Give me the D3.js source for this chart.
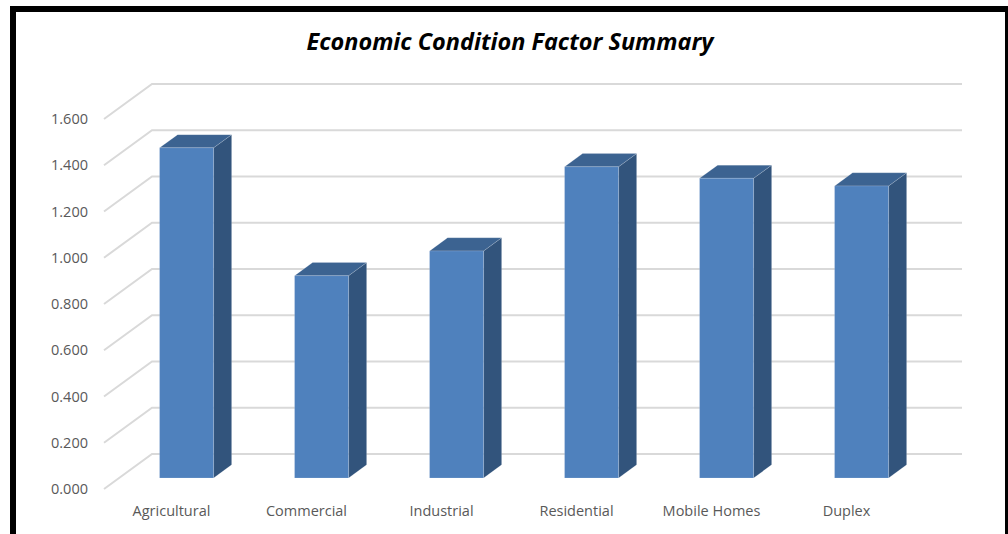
<!DOCTYPE html>
<html lang="en">
  <head>
    <meta charset="utf-8">
    <title>Economic Condition Factor Summary</title>
    <style>
		body{
			margin:0;
			padding:0;
			background:#fff;
		}
		svg{
			display:block;
		}
		.grid{
			stroke:#d9d9d9;
			stroke-width:2;
			fill:none;
		}
		text.tick{
			font-family:"Open Sans", sans-serif;
			font-size:14.5px;
			fill:#595959;
		}
		text.title{
			font-family:"Open Sans", sans-serif;
			font-weight:bold;
			font-style:italic;
			font-size:24px;
			fill:#000;
		}
		.front{ fill:#4f81bd; }
		.side{ fill:#32547c; }
		.top{ fill:#3c6391; }
		.bar path{
			stroke:rgba(255,255,255,0.25);
			stroke-width:0.6;
		}
    </style>
  </head>
  <body>

	<div id="container"></div>

	<script src="https://cdn.jsdelivr.net/npm/d3@7"></script>
	<script type="text/javascript">

		// data
		var categories = ['Agricultural', 'Commercial', 'Industrial', 'Residential', 'Mobile Homes', 'Duplex'];
		var values = [1.428, 0.875, 0.982, 1.346, 1.296, 1.263];
		var ticks = [0, 0.2, 0.4, 0.6, 0.8, 1.0, 1.2, 1.4, 1.6];

		var width = 1008,
			height = 534;

		// oblique 3d: front floor edge and back wall offset
		var depthX = 48, depthY = -35;
		var barD0 = 0.314, barD1 = 0.69;   // bar front / back as fraction of depth

		var svg = d3.select('#container').append('svg')
			.attr('width', width)
			.attr('height', height);

		var x = d3.scaleBand()
			.domain(categories)
			.range([104, 914])
			.paddingInner(0.6)
			.paddingOuter(0.3);

		// y on the front plane
		var y = d3.scaleLinear()
			.domain([0, 1.6])
			.range([489, 489 - 8 * 46.25]);

		// gridlines: diagonal on left side wall + horizontal on back wall
		var grid = svg.append('g');
		ticks.forEach(function(t){
			var yf = y(t);
			grid.append('path')
				.attr('class', 'grid')
				.attr('d', 'M' + x.range()[0] + ',' + yf +
					'L' + (x.range()[0] + depthX) + ',' + (yf + depthY) +
					'L' + (x.range()[1] + depthX) + ',' + (yf + depthY));
		});

		// tick labels
		svg.append('g').selectAll('text').data(ticks).enter()
			.append('text')
			.attr('class', 'tick')
			.attr('x', 88)
			.attr('y', function(d){ return y(d); })
			.attr('dy', '0.35em')
			.attr('text-anchor', 'end')
			.text(function(d){ return d3.format('.3f')(d); });

		// category labels
		svg.append('g').selectAll('text').data(categories).enter()
			.append('text')
			.attr('class', 'tick')
			.attr('x', function(d){ return x(d) + x.bandwidth() / 2; })
			.attr('y', 511)
			.attr('dy', '0.35em')
			.attr('text-anchor', 'middle')
			.text(function(d){ return d; });

		// bars
		var fx = barD0 * depthX, fy = barD0 * depthY;
		var bx = barD1 * depthX, by = barD1 * depthY;

		var bars = svg.append('g').selectAll('g').data(values).enter()
			.append('g').attr('class', 'bar');

		function pts(list){
			return 'M' + list.map(function(p){ return p[0] + ',' + p[1]; }).join('L') + 'Z';
		}

		bars.each(function(v, i){
			var g = d3.select(this);
			var x0 = x(categories[i]), x1 = x0 + x.bandwidth();
			var y0 = y(0), y1 = y(v);
			// side
			g.append('path').attr('class', 'side').attr('d', pts([
				[x1 + fx, y0 + fy], [x1 + bx, y0 + by], [x1 + bx, y1 + by], [x1 + fx, y1 + fy]
			]));
			// top
			g.append('path').attr('class', 'top').attr('d', pts([
				[x0 + fx, y1 + fy], [x0 + bx, y1 + by], [x1 + bx, y1 + by], [x1 + fx, y1 + fy]
			]));
			// front
			g.append('path').attr('class', 'front').attr('d', pts([
				[x0 + fx, y0 + fy], [x1 + fx, y0 + fy], [x1 + fx, y1 + fy], [x0 + fx, y1 + fy]
			]));
		});

		// title
		svg.append('text')
			.attr('class', 'title')
			.attr('x', 510)
			.attr('y', 50)
			.attr('text-anchor', 'middle')
			.attr('textLength', 407)
			.attr('lengthAdjust', 'spacingAndGlyphs')
			.text('Economic Condition Factor Summary');

		// chart border
		svg.append('rect')
			.attr('x', 13)
			.attr('y', 9)
			.attr('width', 995)
			.attr('height', 600)
			.attr('fill', 'none')
			.attr('stroke', '#000')
			.attr('stroke-width', 6);

	</script>
  </body>
</html>
